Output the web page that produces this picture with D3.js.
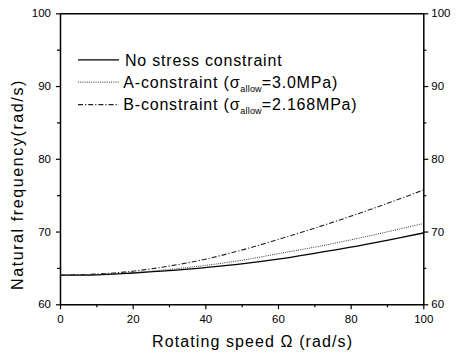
<!DOCTYPE html>
<html><head><meta charset="utf-8">
<script src="https://cdn.jsdelivr.net/npm/d3@7"></script>
<style>
html,body{margin:0;padding:0;background:#fff;}
svg{display:block;font-family:"Liberation Sans",Arial,sans-serif;}
</style></head>
<body>
<svg id="chart" width="459" height="354"></svg>
<script>
const speeds = [0,10,20,30,40,50,60,70,80,90,100];
const noConstraint = [64.0,64.05,64.3,64.62,65.05,65.55,66.2,67.0,67.85,68.8,69.8];
const aConstraint  = [64.0,64.07,64.35,64.78,65.35,66.05,66.95,67.85,68.85,69.95,71.1];
const bConstraint  = [64.0,64.15,64.55,65.25,66.2,67.45,68.9,70.45,72.1,73.85,75.7];
const xTicks = [0,20,40,60,80,100];
const xMinor = [10,30,50,70,90];
const yTicks = [60,70,80,90,100];
const yMinor = [65,75,85,95];
const seriesNames = ["No stress constraint","A-constraint","B-constraint"];
const sigmaValues = ["3.0MPa","2.168MPa"];

const svg = d3.select("#chart");
const L=60, R=423.3, T=13.3, B=304.3;
const x = d3.scaleLinear().domain([0,100]).range([L,R]);
const y = d3.scaleLinear().domain([60,100]).range([B,T]);

function styleAxis(g){
  g.selectAll("path.domain").attr("stroke","#000").attr("stroke-width",1.5);
  g.selectAll(".tick line").attr("stroke","#000").attr("stroke-width",1.2);
  g.selectAll(".tick text").attr("font-size","11.5px").attr("fill","#000")
   .attr("font-family","'Liberation Sans',Arial,sans-serif");
}
function minor(g){ g.select(".domain").remove(); g.selectAll("line").attr("stroke","#000").attr("stroke-width",1.2); }
svg.append("g").attr("transform",`translate(0,${B})`)
  .call(d3.axisBottom(x).tickValues(xMinor).tickSize(3).tickFormat("")).call(minor);
svg.append("g").attr("transform",`translate(${L},0)`)
  .call(d3.axisLeft(y).tickValues(yMinor).tickSize(3).tickFormat("")).call(minor);
svg.append("g").attr("transform",`translate(${R},0)`)
  .call(d3.axisRight(y).tickValues(yMinor).tickSize(3).tickFormat("")).call(minor);

svg.append("g").attr("transform",`translate(0,${B})`)
  .call(d3.axisBottom(x).tickValues(xTicks).tickSize(5).tickSizeOuter(0).tickPadding(6))
  .call(styleAxis);
svg.append("g").attr("transform",`translate(${L},0)`)
  .call(d3.axisLeft(y).tickValues(yTicks).tickSize(4).tickSizeOuter(0).tickPadding(5))
  .call(styleAxis);
svg.append("g").attr("transform",`translate(${R},0)`)
  .call(d3.axisRight(y).tickValues(yTicks).tickSize(5).tickSizeOuter(0).tickPadding(3))
  .call(styleAxis);
svg.append("g").attr("transform",`translate(0,${T})`)
  .call(d3.axisTop(x).tickValues([]).tickSizeOuter(0))
  .call(styleAxis);

const line = d3.line().x((d,i)=>x(speeds[i])).y(d=>y(d)).curve(d3.curveCatmullRom);
const styles = [
  {stroke:"#000", width:1.3, dash:null},
  {stroke:"#333", width:1.0, dash:"1,1.2"},
  {stroke:"#222", width:1.1, dash:"5,2,1.2,2"}
];
[noConstraint,aConstraint,bConstraint].forEach((s,i)=>{
  svg.append("path").datum(s).attr("d",line).attr("fill","none")
    .attr("stroke",styles[i].stroke).attr("stroke-width",styles[i].width)
    .attr("stroke-dasharray",styles[i].dash);
});

const legY = [65.5,87.8,110.3];
const lg = svg.append("g");
legY.forEach((by,i)=>{
  lg.append("line").attr("x1",78).attr("x2",119).attr("y1",by-5.7).attr("y2",by-5.7)
    .attr("stroke",styles[i].stroke).attr("stroke-width",styles[i].width)
    .attr("stroke-dasharray",styles[i].dash);
  const t = lg.append("text").attr("x",i===0?125:123.3).attr("y",by)
    .attr("font-size","16px").attr("letter-spacing","0.8px").attr("fill","#000");
  if(i===0){ t.text(seriesNames[0]); }
  else {
    t.append("tspan").text(seriesNames[i]+" (σ");
    t.append("tspan").attr("font-size","9px").attr("letter-spacing","0.2px").attr("dy",4).text("allow");
    t.append("tspan").attr("dy",-4).text("="+sigmaValues[i-1]+")");
  }
});

svg.append("text").attr("x",152).attr("y",347.3).attr("font-size","16px")
  .attr("letter-spacing","1.1px").attr("fill","#000").text("Rotating speed Ω (rad/s)");
svg.append("text").attr("transform","translate(22.7,290) rotate(-90)")
  .attr("font-size","16px").attr("letter-spacing","1.6px").attr("fill","#000")
  .text("Natural frequency(rad/s)");
</script>
</body></html>
